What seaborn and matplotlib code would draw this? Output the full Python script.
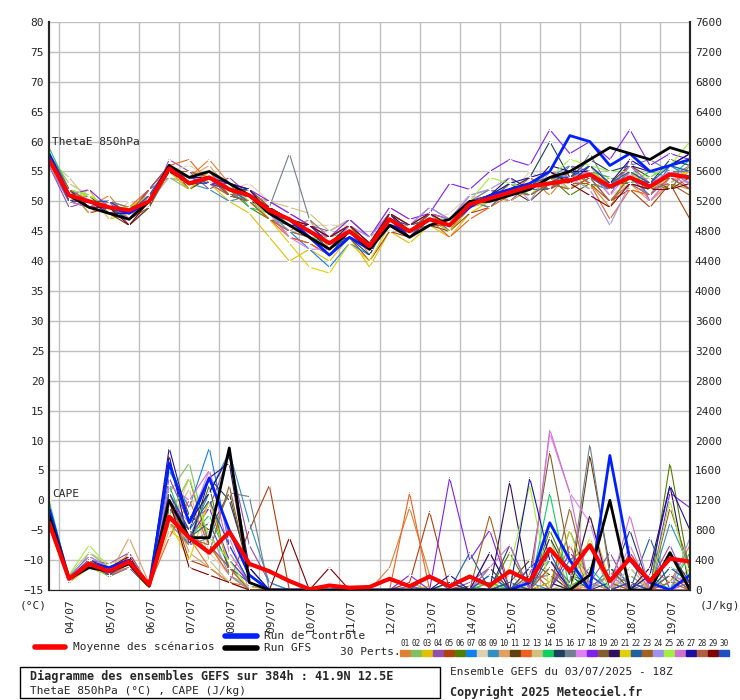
import matplotlib
matplotlib.use("Agg")
import matplotlib.pyplot as plt
import seaborn as sns
import numpy as np

# 12-hourly steps from 03/07 18Z, 0..384h
hours = list(range(0, 385, 12))
day_labels = ["04/07", "05/07", "06/07", "07/07", "08/07", "09/07", "10/07", "11/07",
              "12/07", "13/07", "14/07", "15/07", "16/07", "17/07", "18/07", "19/07"]

pert_colors = ["#e08030", "#80c060", "#e0c000", "#9050b0", "#b04010", "#508000", "#1080f0",
               "#e0d0b0", "#3090c0", "#e0a060", "#604010", "#f06020", "#d0c080", "#10d060",
               "#204060", "#708090", "#e080f0", "#8020f0", "#806030", "#301060", "#e0d000",
               "#2060a0", "#a06020", "#a090f0", "#a0f040", "#d070d0", "#2010a0", "#b06040",
               "#800000", "#2050c0"]

theta_mean = [57, 51, 50, 49, 48.5, 50, 55.5, 53, 54, 52, 51, 48.5, 47, 45, 43, 45, 42.5, 47, 45, 47,
              46, 49.5, 50.5, 51.5, 52.5, 53, 53.5, 54.5, 52.5, 54, 52.5, 54.5, 54]
theta_ctrl = [58, 51, 50, 49, 48, 50, 56, 53, 54, 52, 51, 48, 47, 44, 41, 44, 42, 46, 45, 47, 46, 49,
              51, 52, 53, 55, 61, 60, 56, 58, 55, 56, 57]
theta_gfs = [57, 51, 49, 48, 47, 50, 56, 54, 55, 53, 51, 48, 46, 44, 42, 45, 42, 46, 44, 46, 47, 50,
             50, 51, 52, 54, 55, 57, 59, 58, 57, 59, 58]

theta_perts = [
    [56, 52, 49, 51, 47, 52, 56, 54, 57, 53, 50, 47, 45, 47, 42, 46, 41, 48, 44, 48, 45, 50, 49, 52, 54, 51, 55, 53, 49, 55, 50, 53, 52],
    [58, 53, 51, 48, 49, 50, 54, 52, 55, 51, 52, 49, 46, 44, 44, 45, 43, 46, 46, 47, 47, 49, 51, 50, 52, 55, 52, 56, 53, 53, 54, 56, 55],
    [57, 50, 52, 47, 48, 51, 56, 53, 53, 50, 48, 44, 40, 42, 40, 44, 39, 45, 43, 46, 44, 48, 50, 53, 51, 54, 55, 52, 54, 52, 51, 55, 53],
    [56, 49, 50, 50, 46, 49, 57, 55, 52, 54, 51, 50, 48, 46, 45, 47, 44, 48, 46, 49, 47, 51, 52, 50, 53, 52, 56, 55, 51, 57, 50, 54, 56],
    [58, 52, 48, 49, 47, 51, 55, 52, 54, 53, 52, 48, 44, 43, 41, 44, 40, 45, 44, 47, 45, 48, 49, 52, 51, 53, 52, 54, 50, 52, 49, 53, 47],
    [57, 51, 50, 48, 49, 50, 56, 54, 55, 52, 49, 47, 46, 45, 44, 46, 42, 48, 45, 46, 46, 50, 51, 51, 53, 54, 51, 53, 52, 55, 53, 52, 56],
    [56, 50, 49, 50, 48, 52, 54, 53, 53, 51, 50, 48, 45, 42, 39, 43, 41, 47, 44, 48, 45, 49, 50, 53, 52, 52, 54, 55, 53, 54, 51, 56, 54],
    [57, 53, 51, 47, 50, 49, 55, 56, 54, 52, 53, 50, 48, 46, 46, 46, 44, 49, 47, 47, 48, 51, 52, 51, 55, 53, 53, 56, 51, 53, 55, 54, 55],
    [58, 51, 50, 49, 47, 50, 56, 53, 52, 50, 51, 49, 47, 44, 42, 45, 42, 47, 45, 47, 46, 50, 49, 52, 53, 54, 56, 53, 52, 55, 52, 55, 53],
    [56, 52, 48, 50, 48, 51, 55, 54, 56, 52, 50, 48, 46, 45, 43, 44, 43, 46, 46, 48, 47, 50, 52, 50, 52, 55, 53, 55, 54, 53, 50, 53, 55],
    [57, 50, 51, 48, 46, 49, 56, 52, 54, 53, 52, 49, 47, 46, 44, 46, 43, 47, 44, 46, 45, 49, 51, 52, 50, 53, 54, 54, 53, 56, 54, 52, 54],
    [58, 51, 49, 50, 49, 52, 56, 57, 53, 51, 50, 47, 44, 43, 41, 45, 42, 48, 46, 47, 44, 47, 49, 51, 54, 52, 55, 53, 47, 52, 51, 55, 52],
    [57, 54, 50, 48, 48, 50, 54, 53, 55, 52, 51, 50, 49, 48, 45, 47, 44, 46, 45, 48, 46, 50, 50, 52, 53, 54, 52, 56, 52, 54, 53, 53, 56],
    [59, 52, 51, 49, 47, 51, 55, 54, 54, 53, 49, 48, 45, 44, 43, 45, 42, 47, 45, 47, 47, 49, 51, 53, 51, 53, 55, 55, 54, 53, 55, 54, 57],
    [57, 50, 50, 49, 48, 50, 56, 53, 53, 52, 52, 48, 46, 45, 42, 44, 41, 48, 44, 46, 46, 50, 50, 52, 54, 60, 54, 57, 55, 56, 53, 57, 56],
    [57, 51, 49, 50, 49, 51, 55, 54, 54, 51, 51, 49, 58, 47, 44, 46, 43, 47, 46, 48, 46, 50, 52, 51, 53, 55, 53, 58, 52, 56, 57, 55, 55],
    [56, 52, 50, 48, 47, 50, 56, 53, 55, 52, 50, 48, 44, 42, 42, 45, 43, 47, 44, 47, 46, 51, 50, 53, 52, 54, 53, 55, 51, 55, 50, 54, 53],
    [57, 51, 52, 49, 48, 52, 56, 54, 53, 53, 52, 50, 48, 46, 44, 47, 44, 49, 47, 48, 53, 52, 55, 57, 56, 62, 58, 60, 57, 62, 56, 58, 57],
    [57, 50, 50, 50, 47, 49, 55, 53, 54, 52, 51, 48, 46, 45, 43, 45, 42, 47, 45, 47, 46, 50, 51, 52, 53, 52, 54, 54, 53, 53, 52, 55, 54],
    [58, 52, 49, 48, 48, 50, 56, 54, 54, 51, 50, 49, 47, 45, 43, 46, 43, 48, 45, 48, 47, 50, 51, 54, 52, 56, 55, 55, 52, 56, 55, 56, 58],
    [56, 51, 51, 49, 49, 51, 55, 52, 55, 53, 51, 47, 43, 39, 38, 43, 40, 46, 44, 47, 45, 49, 50, 51, 53, 54, 54, 55, 53, 55, 52, 54, 55],
    [57, 52, 50, 49, 47, 50, 56, 53, 53, 52, 50, 48, 46, 44, 42, 45, 43, 47, 46, 47, 46, 49, 51, 52, 53, 53, 55, 54, 52, 54, 53, 54, 52],
    [58, 50, 49, 50, 48, 51, 55, 55, 54, 51, 52, 49, 47, 45, 43, 44, 42, 46, 45, 48, 46, 50, 50, 53, 52, 54, 53, 53, 50, 54, 52, 53, 51],
    [57, 51, 50, 48, 47, 50, 56, 54, 55, 52, 51, 48, 45, 44, 42, 46, 44, 48, 46, 49, 47, 51, 52, 54, 50, 55, 54, 52, 46, 53, 51, 55, 53],
    [57, 52, 51, 49, 48, 50, 55, 53, 54, 53, 50, 48, 46, 45, 43, 45, 43, 47, 45, 47, 46, 50, 54, 53, 52, 54, 57, 56, 55, 55, 54, 56, 60],
    [56, 50, 49, 50, 47, 51, 56, 54, 53, 52, 51, 49, 47, 45, 44, 46, 43, 48, 46, 48, 47, 50, 51, 51, 53, 55, 54, 55, 52, 56, 53, 55, 54],
    [57, 51, 50, 48, 48, 50, 55, 53, 54, 53, 52, 48, 46, 46, 43, 44, 42, 47, 44, 47, 46, 49, 51, 53, 54, 55, 53, 56, 53, 57, 55, 56, 58],
    [58, 52, 50, 49, 48, 52, 56, 54, 55, 51, 50, 47, 45, 44, 42, 45, 43, 47, 45, 46, 46, 50, 50, 52, 51, 53, 52, 54, 50, 53, 51, 54, 52],
    [57, 51, 49, 49, 46, 50, 55, 53, 54, 52, 51, 49, 47, 46, 44, 46, 43, 48, 46, 48, 46, 50, 51, 52, 53, 55, 53, 51, 49, 53, 52, 52, 53],
    [57, 50, 50, 50, 48, 51, 56, 54, 53, 52, 51, 48, 46, 44, 41, 45, 42, 47, 45, 47, 46, 50, 51, 52, 53, 54, 54, 56, 53, 55, 53, 56, 55],
]

cape_mean = [900, 150, 350, 250, 380, 70, 980, 700, 500, 780, 350, 250, 120, 10, 60, 30, 40, 150, 50, 180,
             50, 180, 60, 250, 120, 550, 250, 600, 120, 420, 120, 420, 380]
cape_ctrl = [1100, 150, 350, 300, 400, 60, 1700, 900, 1500, 800, 200, 0, 0, 0, 0, 0, 0, 0, 0, 0, 0, 0,
             0, 0, 100, 900, 400, 0, 1800, 400, 100, 0, 200]
cape_gfs = [1000, 150, 300, 250, 350, 50, 1200, 700, 700, 1900, 100, 0, 0, 0, 0, 0, 0, 0, 0, 0, 0, 0,
            0, 0, 0, 0, 0, 200, 1200, 0, 0, 500, 0]

cape_perts = [
    [1000, 150, 400, 200, 500, 50, 900, 700, 300, 100, 50, 20, 0, 0, 0, 50, 0, 300, 1100, 200, 50, 0, 100, 0, 300, 100, 0, 50, 200, 0, 300, 100, 600],
    [900, 100, 500, 300, 400, 80, 1300, 1700, 600, 200, 50, 0, 0, 0, 0, 0, 0, 0, 100, 0, 0, 50, 100, 0, 200, 400, 100, 600, 0, 100, 0, 300, 200],
    [1100, 200, 300, 250, 300, 40, 800, 600, 1200, 300, 100, 0, 0, 0, 0, 0, 0, 0, 0, 50, 0, 0, 0, 100, 0, 700, 0, 1000, 100, 0, 200, 0, 300],
    [950, 100, 400, 350, 500, 60, 1500, 900, 1100, 1800, 600, 100, 0, 0, 0, 0, 0, 0, 50, 0, 0, 100, 300, 0, 150, 200, 0, 100, 500, 0, 100, 600, 0],
    [1000, 150, 300, 200, 450, 50, 1200, 400, 300, 100, 800, 1400, 0, 0, 0, 0, 0, 0, 100, 1050, 0, 50, 0, 100, 0, 300, 50, 200, 0, 500, 100, 0, 200],
    [850, 120, 350, 180, 300, 30, 1000, 600, 1400, 200, 0, 0, 0, 0, 0, 0, 0, 0, 0, 0, 0, 0, 0, 500, 0, 800, 200, 100, 0, 300, 0, 1700, 200],
    [1050, 180, 450, 300, 400, 60, 1600, 1100, 1900, 600, 100, 0, 0, 0, 0, 0, 0, 0, 0, 0, 100, 0, 300, 0, 100, 0, 400, 0, 300, 100, 0, 200, 100],
    [900, 100, 300, 200, 350, 40, 800, 1500, 500, 200, 0, 0, 0, 0, 0, 0, 0, 0, 0, 0, 0, 0, 0, 50, 0, 100, 0, 200, 0, 300, 0, 100, 0],
    [1000, 130, 400, 250, 400, 50, 1100, 700, 1300, 1850, 900, 100, 0, 0, 0, 0, 0, 0, 0, 0, 0, 0, 200, 0, 300, 0, 800, 100, 0, 200, 0, 900, 300],
    [950, 150, 350, 200, 700, 90, 1200, 500, 300, 100, 0, 0, 0, 0, 0, 0, 0, 0, 0, 0, 0, 0, 0, 0, 0, 0, 0, 100, 0, 200, 0, 100, 500],
    [1000, 100, 350, 300, 400, 50, 1700, 1000, 800, 1300, 200, 0, 0, 0, 0, 0, 0, 0, 0, 0, 0, 0, 0, 100, 400, 200, 0, 1800, 300, 0, 0, 200, 0],
    [900, 150, 400, 200, 300, 60, 700, 1200, 600, 200, 0, 0, 0, 0, 0, 0, 0, 0, 1300, 0, 0, 0, 500, 0, 300, 0, 600, 0, 200, 400, 0, 100, 100],
    [1100, 200, 500, 350, 450, 80, 900, 1350, 400, 100, 0, 0, 0, 0, 0, 0, 0, 0, 0, 0, 0, 0, 0, 200, 0, 0, 100, 0, 0, 100, 0, 0, 300],
    [1200, 150, 300, 200, 400, 50, 1400, 700, 1000, 400, 100, 0, 0, 0, 0, 0, 0, 0, 0, 0, 0, 0, 100, 0, 0, 1300, 0, 300, 0, 0, 200, 0, 500],
    [1000, 100, 350, 250, 350, 40, 1100, 800, 1500, 1200, 300, 0, 0, 0, 0, 0, 0, 0, 0, 0, 100, 0, 0, 600, 0, 700, 200, 0, 100, 800, 0, 500, 100],
    [950, 120, 400, 200, 300, 50, 900, 600, 700, 1300, 1250, 0, 0, 0, 0, 0, 0, 0, 0, 0, 0, 0, 0, 0, 0, 400, 100, 1950, 200, 100, 0, 0, 200],
    [1000, 150, 450, 300, 400, 60, 1200, 900, 1600, 700, 0, 0, 0, 0, 0, 0, 0, 0, 0, 0, 0, 0, 0, 0, 0, 2100, 1300, 900, 0, 600, 0, 200, 100],
    [1050, 100, 400, 250, 350, 50, 1300, 700, 1100, 400, 100, 0, 0, 0, 0, 0, 0, 0, 200, 0, 1500, 400, 800, 0, 0, 0, 500, 200, 0, 100, 0, 1300, 1100],
    [900, 130, 350, 200, 300, 40, 1000, 1500, 600, 300, 0, 0, 0, 0, 0, 0, 0, 0, 0, 0, 0, 0, 300, 0, 200, 1850, 400, 600, 100, 0, 0, 200, 0],
    [1000, 150, 400, 300, 400, 60, 1800, 600, 1500, 1700, 100, 0, 0, 0, 0, 0, 0, 0, 0, 0, 0, 0, 0, 1450, 0, 100, 0, 1000, 0, 0, 300, 1400, 0],
    [950, 100, 300, 200, 350, 50, 900, 400, 1200, 300, 0, 0, 0, 0, 0, 0, 0, 0, 0, 0, 0, 0, 0, 0, 0, 100, 800, 0, 0, 0, 0, 0, 200],
    [1000, 150, 400, 250, 400, 60, 1100, 700, 900, 300, 100, 0, 0, 0, 0, 0, 0, 0, 0, 200, 0, 500, 0, 100, 0, 500, 300, 0, 0, 0, 700, 0, 100],
    [1100, 120, 350, 200, 350, 50, 1300, 800, 500, 1400, 200, 0, 0, 0, 0, 0, 0, 0, 0, 0, 0, 0, 1000, 0, 0, 0, 1100, 0, 0, 0, 0, 1100, 300],
    [1000, 150, 350, 300, 400, 40, 1200, 600, 800, 200, 0, 0, 0, 0, 0, 0, 0, 0, 0, 0, 0, 0, 0, 0, 0, 0, 0, 0, 200, 0, 0, 0, 700],
    [950, 200, 600, 300, 350, 50, 1000, 1500, 700, 400, 0, 0, 0, 0, 0, 0, 0, 0, 0, 0, 0, 0, 0, 300, 1400, 0, 0, 700, 0, 0, 0, 1200, 100],
    [1000, 100, 400, 200, 300, 60, 1400, 1200, 1600, 500, 100, 0, 0, 0, 0, 0, 0, 0, 0, 0, 0, 0, 300, 600, 0, 2150, 1300, 0, 0, 1000, 0, 0, 100],
    [1050, 150, 350, 250, 400, 50, 1900, 900, 1300, 1800, 300, 0, 0, 0, 0, 0, 0, 0, 0, 0, 200, 0, 500, 0, 1500, 400, 0, 0, 0, 0, 200, 1400, 800],
    [900, 120, 400, 200, 350, 40, 1100, 700, 600, 300, 0, 0, 0, 0, 0, 0, 0, 0, 0, 0, 0, 0, 0, 0, 0, 300, 0, 0, 0, 100, 0, 100, 0],
    [1000, 150, 300, 300, 450, 50, 1200, 300, 200, 100, 0, 0, 700, 0, 300, 0, 0, 0, 0, 0, 0, 0, 0, 0, 0, 0, 0, 0, 0, 0, 0, 0, 0],
    [950, 130, 350, 200, 400, 60, 1300, 800, 1200, 600, 100, 0, 0, 0, 0, 0, 0, 0, 0, 0, 0, 0, 200, 0, 300, 500, 0, 200, 0, 100, 0, 300, 100],
]

sns.set_style("white")
plt.rcParams["font.family"] = ["DejaVu Sans Mono", "DejaVu Sans"]
fig = plt.figure(figsize=(7.4, 7.0), dpi=100)
ax = fig.add_axes([49 / 740, 110 / 700, 641 / 740, 568 / 700])
ax2 = ax.twinx()

# ThetaE on left axis, CAPE on right axis
for i in range(30):
    sns.lineplot(x=hours, y=theta_perts[i], ax=ax, color=pert_colors[i], lw=0.8,
                 marker="+", markersize=3, mew=0.7)
    sns.lineplot(x=hours, y=cape_perts[i], ax=ax2, color=pert_colors[i], lw=0.8,
                 marker="+", markersize=3, mew=0.7)
for yv, yc in [(theta_ctrl, cape_ctrl)]:
    sns.lineplot(x=hours, y=yv, ax=ax, color="#0020ff", lw=2)
    sns.lineplot(x=hours, y=yc, ax=ax2, color="#0020ff", lw=2)
sns.lineplot(x=hours, y=theta_gfs, ax=ax, color="black", lw=2)
sns.lineplot(x=hours, y=cape_gfs, ax=ax2, color="black", lw=2)
sns.lineplot(x=hours, y=theta_mean, ax=ax, color="#ff0000", lw=3)
sns.lineplot(x=hours, y=cape_mean, ax=ax2, color="#ff0000", lw=3)

ax.set_xlim(0, 384)
ax.set_ylim(-15, 80)
ax2.set_ylim(0, 7600)
ax.set_yticks(range(-15, 81, 5))
ax2.set_yticks(range(0, 7601, 400))
day_ticks = [6 + 24 * k for k in range(len(day_labels))]
ax.set_xticks(day_ticks)
ax.set_xticklabels([])
for t, lab in zip(day_ticks, day_labels):
    ax.text(t + 7, -16.5, lab, rotation=90, ha="center", va="top", fontsize=8)
ax.grid(True, color="#c0c0c0", lw=1)
ax.set_axisbelow(True)
ax.tick_params(axis="both", labelsize=8, length=0)
ax2.tick_params(axis="y", labelsize=8, length=0)
for a in (ax, ax2):
    a.spines["top"].set_visible(False)
    a.spines["left"].set_linewidth(1.5)
    a.spines["right"].set_linewidth(1.5)
ax.set_xlabel("")
ax.set_ylabel("")
ax2.set_ylabel("")

ax.text(2, 59.5, "ThetaE 850hPa", fontsize=8)
ax.text(2, 0.5, "CAPE", fontsize=8)
fig.text(20 / 740, 1 - 606 / 700, "(°C)", fontsize=8, va="center")
fig.text(700 / 740, 1 - 606 / 700, "(J/kg)", fontsize=8, va="center")

# legend area
def fy(y):
    return 1 - y / 700

fig.add_artist(plt.Line2D([35 / 740, 65 / 740], [fy(647), fy(647)], color="#ff0000", lw=4))
fig.text(73 / 740, fy(647), "Moyenne des scénarios", fontsize=8, va="center")
fig.add_artist(plt.Line2D([225 / 740, 257 / 740], [fy(636), fy(636)], color="#0020ff", lw=4))
fig.text(264 / 740, fy(636), "Run de contrôle", fontsize=8, va="center")
fig.add_artist(plt.Line2D([225 / 740, 257 / 740], [fy(648), fy(648)], color="black", lw=4))
fig.text(264 / 740, fy(648), "Run GFS", fontsize=8, va="center")
fig.text(340 / 740, fy(652), "30 Perts.", fontsize=8, va="center")
for i in range(30):
    x0 = 400 + i * 11
    fig.text((x0 + 5) / 740, fy(643), "%02d" % (i + 1), fontsize=5.5, ha="center", va="center")
    fig.add_artist(plt.Rectangle((x0 / 740, fy(656)), 10 / 740, 6 / 700, color=pert_colors[i]))

fig.add_artist(plt.Rectangle((20 / 740, fy(698)), 420 / 740, 31 / 700, fill=False, ec="black", lw=1))
fig.text(30 / 740, fy(676), "Diagramme des ensembles GEFS sur 384h : 41.9N 12.5E",
         fontsize=8.5, fontweight="bold", va="center")
fig.text(30 / 740, fy(691), "ThetaE 850hPa (°C) , CAPE (J/kg)", fontsize=8, va="center")
fig.text(450 / 740, fy(672), "Ensemble GEFS du 03/07/2025 - 18Z", fontsize=8, va="center")
fig.text(450 / 740, fy(692), "Copyright 2025 Meteociel.fr", fontsize=8.5, fontweight="bold", va="center")

fig.savefig("out.png", dpi=100)
